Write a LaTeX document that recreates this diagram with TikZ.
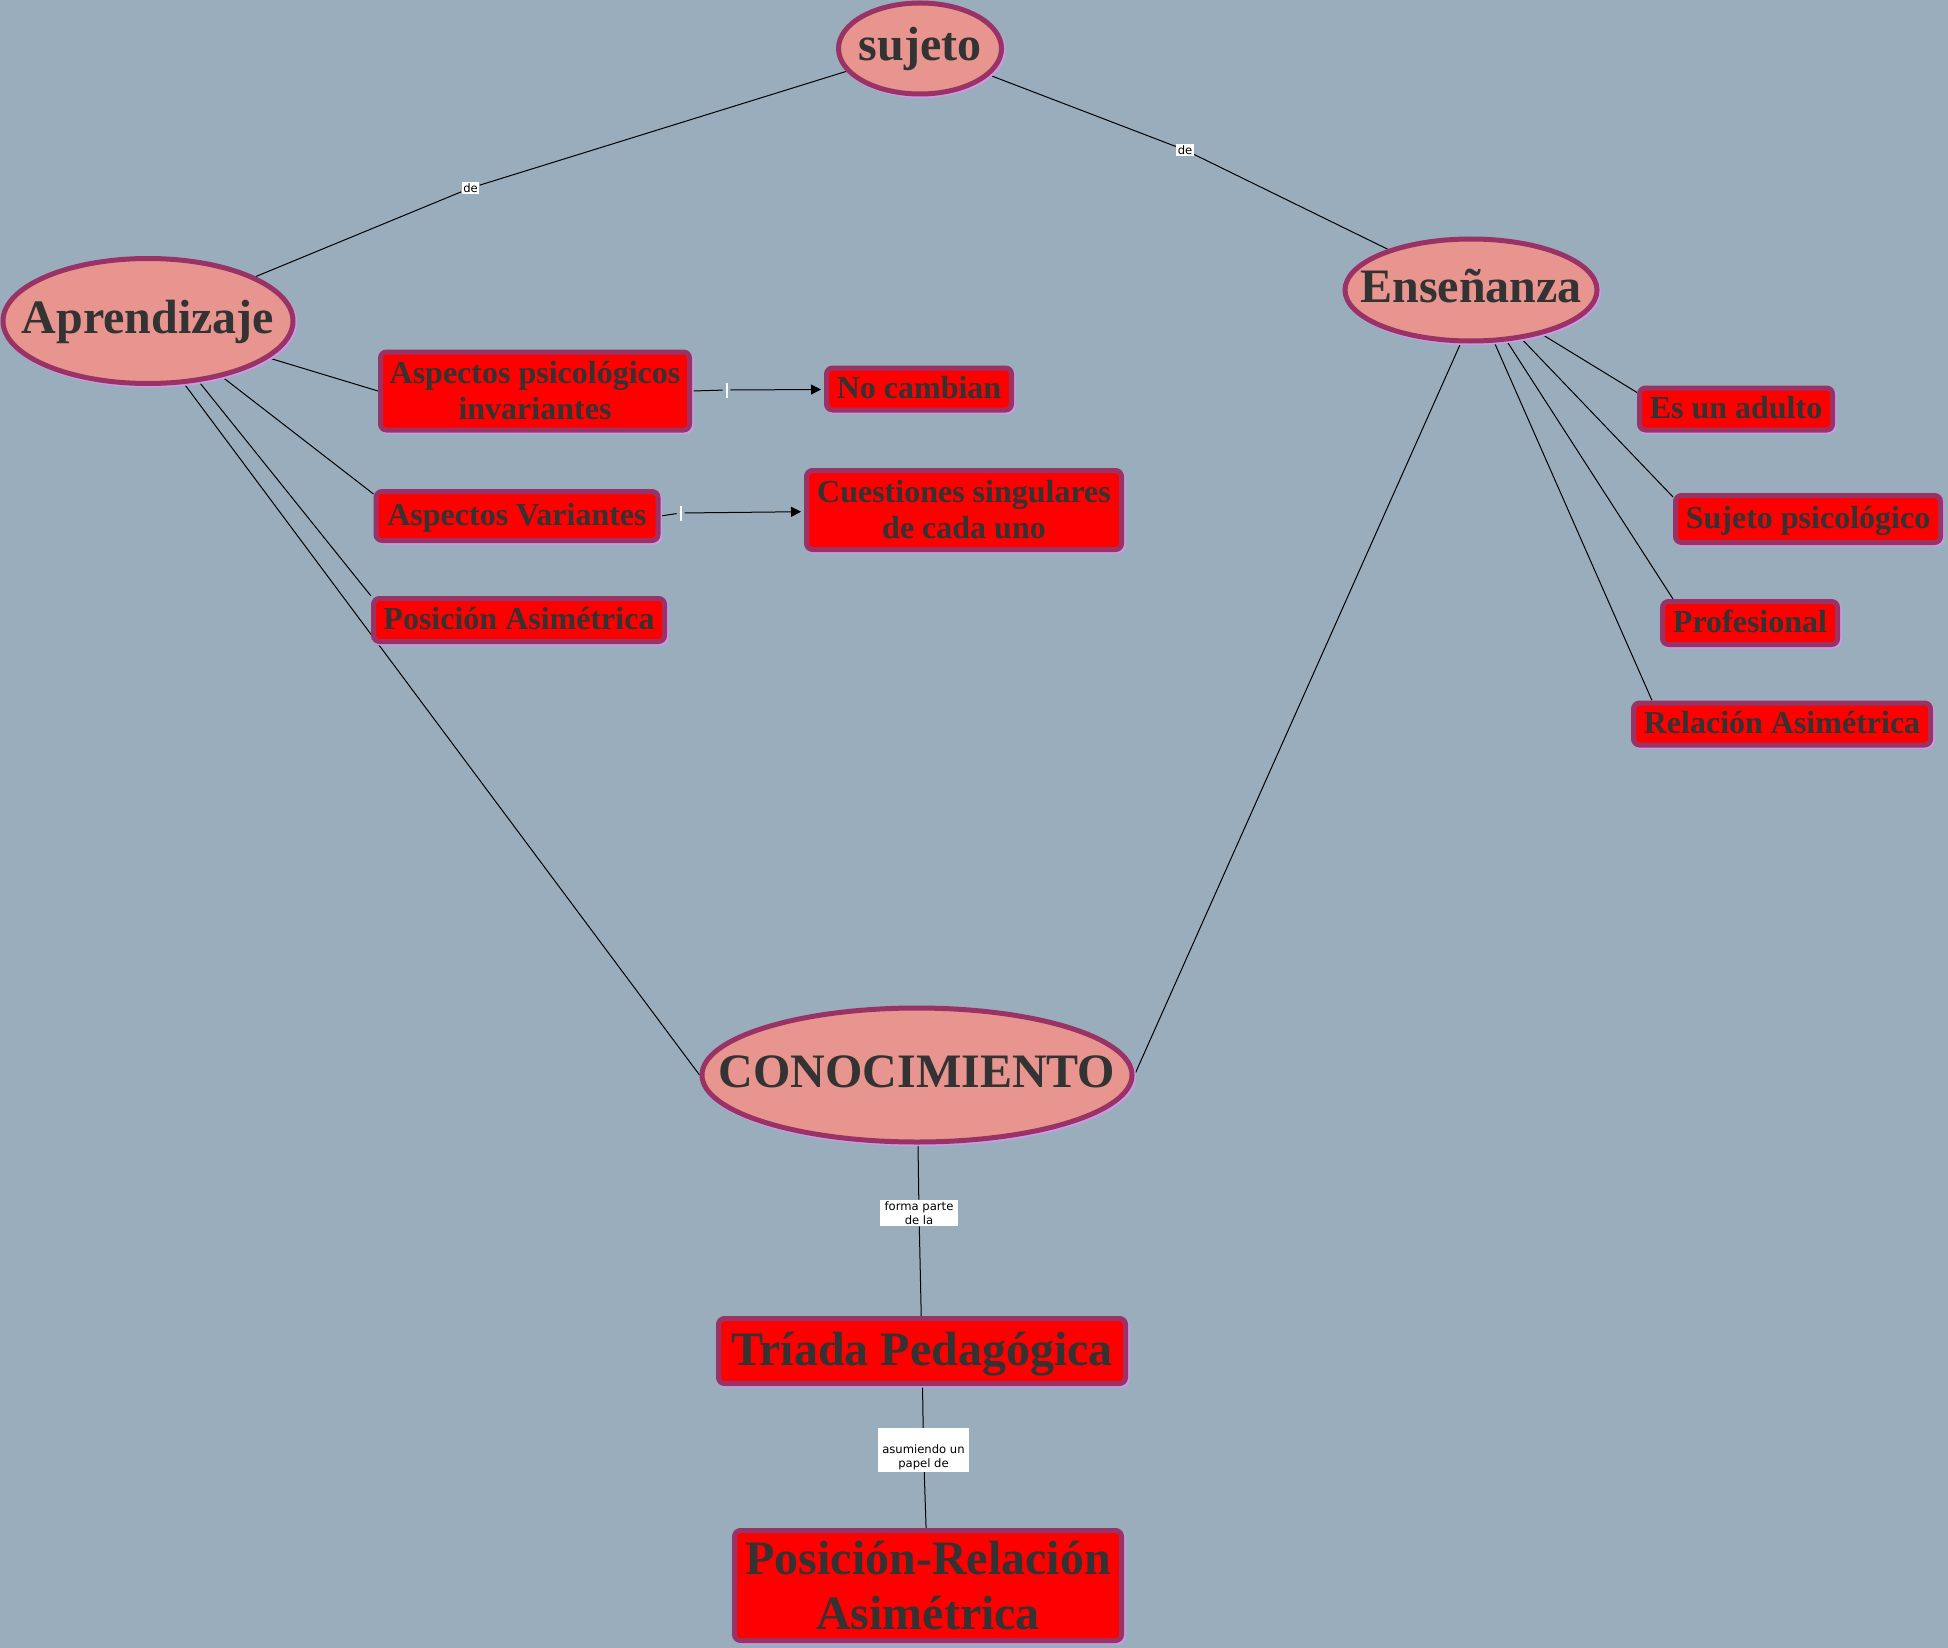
\documentclass[tikz,border=0pt]{standalone}
\usepackage{fontspec}
\setmainfont{Liberation Serif}
\newfontfamily\enlacefont{DejaVu Sans}
\usetikzlibrary{shapes.geometric,arrows.meta,backgrounds}
\definecolor{fondo}{HTML}{9AADBD}
\definecolor{salmon}{HTML}{E8948F}
\definecolor{borde}{HTML}{993366}
\definecolor{sombra}{HTML}{CC99E6}
\definecolor{texto}{HTML}{333333}
\begin{document}
\begin{tikzpicture}[x=0.5pt,y=-0.5pt,
  ovalo/.style={ellipse,draw=borde,line width=2.5pt,fill=salmon,inner sep=0pt,text=texto,
    font=\bfseries\fontsize{24}{28}\selectfont,text height=17.3pt,text depth=4.8pt,
    preaction={draw=sombra,line width=2.5pt,transform canvas={shift={(0.8pt,-0.8pt)}}}},
  cajabase/.style={rectangle,rounded corners=3pt,draw=borde,line width=2.5pt,fill=red,inner sep=0pt,text=texto,
    font=\bfseries\fontsize{16}{18}\selectfont,
    preaction={draw=sombra,line width=2.5pt,transform canvas={shift={(0.8pt,-0.8pt)}}}},
  caja/.style={cajabase,text height=11.8pt,text depth=2.6pt},
  cajados/.style={cajabase,align=center},
  etiqueta/.style={fill=white,inner xsep=0.8pt,inner ysep=0.8pt,text=black,align=center,
    font=\enlacefont\fontsize{5.8}{7}\selectfont},
  marca/.style={inner sep=0pt,minimum width=3.5pt,minimum height=7.5pt},
  enlace/.style={line width=0.5pt},
  flecha/.style={enlace,-{Triangle[length=5pt,width=5pt]},shorten >=1.5pt}]
\useasboundingbox (0,0) rectangle (1948,1648);
\node [ovalo,minimum width=81.5pt,minimum height=45.5pt] (suj) at (920,48.5) {\makebox[0pt]{sujeto}};
\node [ovalo,minimum width=145pt,minimum height=62.5pt] (apr) at (148,321) {\makebox[0pt]{Aprendizaje}};
\node [ovalo,minimum width=126pt,minimum height=51pt] (ens) at (1471,290) {\makebox[0pt]{Enseñanza}};
\node [ovalo,minimum width=215pt,minimum height=67pt] (con) at (917,1075) {\makebox[0pt]{CONOCIMIENTO}};
\node [cajados,minimum width=154.5pt,minimum height=39pt] (asp) at (535,391) {Aspectos psicológicos\\invariantes};
\node [caja,minimum width=92.5pt,minimum height=21pt] (nc) at (919,389) {No cambian};
\node [caja,minimum width=141pt,minimum height=24.5pt] (av) at (517,516) {Aspectos Variantes};
\node [cajados,minimum width=157.5pt,minimum height=39.5pt] (cs) at (964,510) {Cuestiones singulares\\de cada uno};
\node [caja,minimum width=145.5pt,minimum height=21.5pt] (pa) at (519,620) {Posición Asimétrica};
\node [caja,minimum width=96.5pt,minimum height=21pt] (eua) at (1736,409) {Es un adulto};
\node [caja,minimum width=132.5pt,minimum height=23.5pt] (sp) at (1808,519) {Sujeto psicológico};
\node [caja,minimum width=87.5pt,minimum height=21.5pt] (prof) at (1750,623) {Profesional};
\node [caja,minimum width=148.5pt,minimum height=21pt] (ra) at (1782,724) {Relación Asimétrica};
\node [caja,minimum width=203.5pt,minimum height=32.5pt,font=\bfseries\fontsize{24}{28}\selectfont,
  text height=17.8pt,text depth=3.8pt] (tri) at (922,1351) {Tríada Pedagógica};
\node [cajados,minimum width=193.5pt,minimum height=55pt,font=\bfseries\fontsize{24}{27.5}\selectfont] (prp) at (928,1585.5) {Posición-Relación\\Asimétrica};
\node [etiqueta] (de1) at (470.5,188) {de};
\node [etiqueta] (de2) at (1185,150) {de};
\node [etiqueta,minimum width=39pt] (fp) at (919,1213) {forma parte\\de la};
\node [etiqueta,minimum width=45.5pt] (asu) at (923.5,1450) {\rule{0pt}{12pt}asumiendo un\\papel de};
\node [marca] (tk1) at (726.5,390) {\color{white}\rule[-3.75pt]{1pt}{7.5pt}};
\node [marca] (tk2) at (680.6,513) {\color{white}\rule[-3.75pt]{1pt}{7.5pt}};
\begin{scope}[on background layer]
\fill [fondo] (0,0) rectangle (1948,1648);
\draw [enlace] (suj) -- (de1);
\draw [enlace] (de1) -- (apr);
\draw [enlace] (suj) -- (de2);
\draw [enlace] (de2) -- (ens);
\draw [enlace] (apr.-17) -- (asp.west);
\draw [enlace] (apr.-37) -- ([yshift=-2.5pt]av.north west);
\draw [enlace] (apr.-50) -- (pa.north west);
\draw [enlace] (apr.-60) -- (con.west);
\draw [enlace] (ens.-101) -- (con.east);
\draw [enlace] (ens.-32) -- ([yshift=-3.5pt]eua.north west);
\draw [enlace] (ens.-44) -- ([yshift=-2pt]sp.north west);
\draw [enlace] (ens.-55) -- ([xshift=6.5pt]prof.north west);
\draw [enlace] (ens.-66) -- ([xshift=10.5pt]ra.north west);
\draw [enlace] (asp.east) -- (tk1);
\draw [flecha] (tk1) -- (nc);
\draw [enlace] (av.east) -- (tk2);
\draw [flecha] (tk2) -- (cs);
\draw [enlace] (con) -- (fp);
\draw [enlace] (fp) -- (tri);
\draw [enlace] (tri) -- (asu);
\draw [enlace] (asu) -- (prp);
\end{scope}
\end{tikzpicture}
\end{document}
